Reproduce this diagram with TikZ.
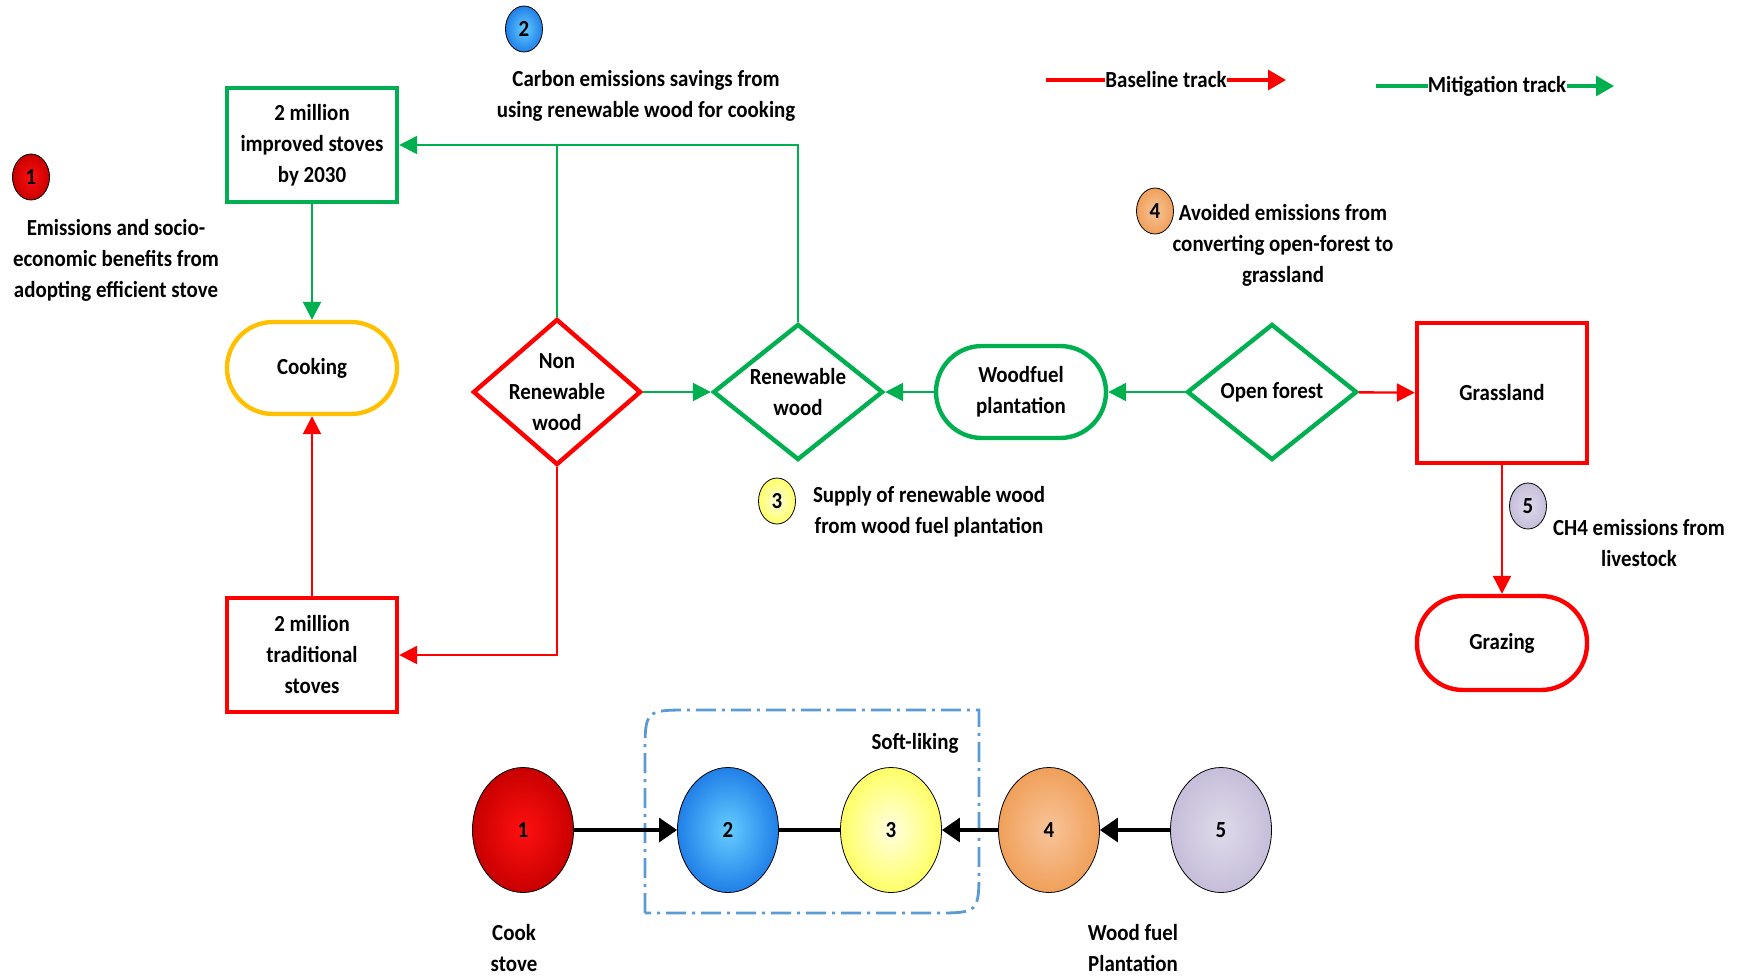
\documentclass[tikz,border=0pt]{standalone}
\usepackage{fontspec}
\setsansfont{Carlito}[FakeStretch=0.91]
\usepackage{tikz}
\usetikzlibrary{arrows.meta,shapes.geometric,positioning}

\definecolor{mitgreen}{HTML}{00B050}
\definecolor{basered}{HTML}{FF0000}
\definecolor{cookyellow}{HTML}{FFC000}
\definecolor{softblue}{HTML}{5B9BD5}
\definecolor{redin}{HTML}{FF1010}
\definecolor{redout}{HTML}{C80000}
\definecolor{bluein}{HTML}{66CCFF}
\definecolor{blueout}{HTML}{2080E8}
\definecolor{yellowin}{HTML}{FFFFE0}
\definecolor{yellowout}{HTML}{FFFF66}
\definecolor{orangein}{HTML}{F8C49A}
\definecolor{orangeout}{HTML}{F0A05A}
\definecolor{lilacin}{HTML}{DFDAEA}
\definecolor{lilacout}{HTML}{C6BEDA}

\begin{document}
\begin{tikzpicture}[x=0.5pt,y=-0.5pt,
  every node/.style={font=\sffamily\bfseries\fontsize{11.5}{15.5}\selectfont,align=center},
  box/.style={draw,line width=2.2pt,minimum width=85pt,minimum height=57pt,inner sep=2pt},
  terminal/.style={draw,line width=2.2pt,rounded corners=23pt,minimum width=85pt,minimum height=46pt},
  decision/.style={draw,diamond,line width=2.2pt,inner sep=0pt,minimum width=85pt,minimum height=68pt},
  badge/.style={draw,ellipse,thin,inner sep=0pt,minimum width=18.5pt,minimum height=23pt},
  phase/.style={draw,ellipse,thin,inner sep=0pt,minimum width=50.5pt,minimum height=62.5pt},
  note/.style={inner sep=0pt},
  flow/.style={line width=1.2pt,-{Triangle[length=9pt,width=9pt]}},
  mit/.style={flow,mitgreen},
  base/.style={flow,basered},
  key/.style={line width=1.6pt},
  link/.style={line width=1.6pt,-{Triangle[length=9pt,width=12pt]}},
  softbox/.style={softblue,line width=1.4pt,dash pattern=on 10pt off 3pt on 1.5pt off 3pt}]

    \useasboundingbox (0,0) rectangle (1745,975);

    % main flow
    \node[box,draw=mitgreen] (improved) at (312,145) {2 million\\improved stoves\\by 2030};
    \node[terminal,draw=cookyellow] (cooking) at (312,368) {Cooking};
    \node[box,draw=basered] (traditional) at (312,655) {2 million\\traditional\\stoves};
    \node[decision,draw=basered,minimum width=84pt,minimum height=73pt,
          label=center:{Non\\Renewable\\wood}] (nonrenew) at (557,392) {};
    \node[decision,draw=mitgreen,label=center:{Renewable\\wood}] (renew) at (798,392) {};
    \node[terminal,draw=mitgreen] (woodfuel) at (1021,392) {Woodfuel\\plantation};
    \node[decision,draw=mitgreen,label=center:{Open forest}] (openforest) at (1272,392) {};
    \node[box,draw=basered,minimum height=70pt] (grassland) at (1502,393) {Grassland};
    \node[terminal,draw=basered,minimum height=47pt] (grazing) at (1502,643) {Grazing};

    \draw[mit] (improved) -- (cooking);
    \draw[base] (traditional) -- (cooking);
    \draw[mitgreen,line width=1.2pt] (nonrenew.north) -- (nonrenew.north |- improved.east);
    \draw[mit] (renew.north) |- (improved.east);
    \draw[mit] (nonrenew) -- (renew);
    \draw[base] (nonrenew.south) |- (traditional.east);
    \draw[mit] (woodfuel) -- (renew);
    \draw[mit] (openforest) -- (woodfuel);
    \draw[base] (openforest) -- (grassland);
    \draw[base] (grassland) -- (grazing);

    % numbered notes
    \node[badge,inner color=redin,outer color=redout] (b1) at (31,177) {1};
    \node[note] (b1txt) at (116,260) {Emissions and socio-\\economic benefits from\\adopting efficient stove};
    \node[badge,inner color=bluein,outer color=blueout] (b2) at (524,29) {2};
    \node[note] (b2txt) at (646,96) {Carbon emissions savings from\\using renewable wood for cooking};
    \node[badge,inner color=yellowin,outer color=yellowout] (b3) at (777,501) {3};
    \node[note] (b3txt) at (929,512) {Supply of renewable wood\\from wood fuel plantation};
    \node[badge,inner color=orangein,outer color=orangeout] (b4) at (1155,211) {4};
    \node[note] (b4txt) at (1283,245) {Avoided emissions from\\converting open-forest to\\grassland};
    \node[badge,inner color=lilacin,outer color=lilacout] (b5) at (1528,506) {5};
    \node[note] (b5txt) at (1639,543) {CH4 emissions from\\livestock};

    % legend
    \coordinate (baseFrom) at (1046,80);
    \node[note] (baseLbl) at (1166,80) {Baseline track};
    \coordinate (baseTo) at (1286,80);
    \draw[key,basered] (baseFrom) -- (baseLbl.west);
    \draw[key,basered,-{Triangle[length=9pt,width=10pt]}] (baseLbl.east) -- (baseTo);
    \coordinate (mitFrom) at (1376,86);
    \node[note] (mitLbl) at (1497,86) {Mitigation track};
    \coordinate (mitTo) at (1614,86);
    \draw[key,mitgreen] (mitFrom) -- (mitLbl.west);
    \draw[key,mitgreen,-{Triangle[length=9pt,width=10pt]}] (mitLbl.east) -- (mitTo);

    % linking chain
    \draw[softbox] (645,913) -- (645,755) .. controls (645,710) .. (690,710) -- (979,710)
        -- (979,868) .. controls (979,913) .. (934,913) -- cycle;
    \node[note] (softLbl) at (915,743) {Soft-liking};
    \node[phase,inner color=redin,outer color=redout] (p1) at (523,830) {1};
    \node[phase,inner color=bluein,outer color=blueout] (p2) at (728,830) {2};
    \node[phase,inner color=yellowin,outer color=yellowout] (p3) at (891,830) {3};
    \node[phase,inner color=orangein,outer color=orangeout] (p4) at (1049,830) {4};
    \node[phase,inner color=lilacin,outer color=lilacout] (p5) at (1221,830) {5};
    \draw[link] (p1) -- (p2);
    \draw[line width=1.6pt] (p2) -- (p3);
    \draw[link] (p4) -- (p3);
    \draw[link] (p5) -- (p4);
    \node[note] (cookLbl) at (514,948) {Cook\\stove};
    \node[note] (plantLbl) at (1133,948) {Wood fuel\\Plantation};
\end{tikzpicture}
\end{document}
